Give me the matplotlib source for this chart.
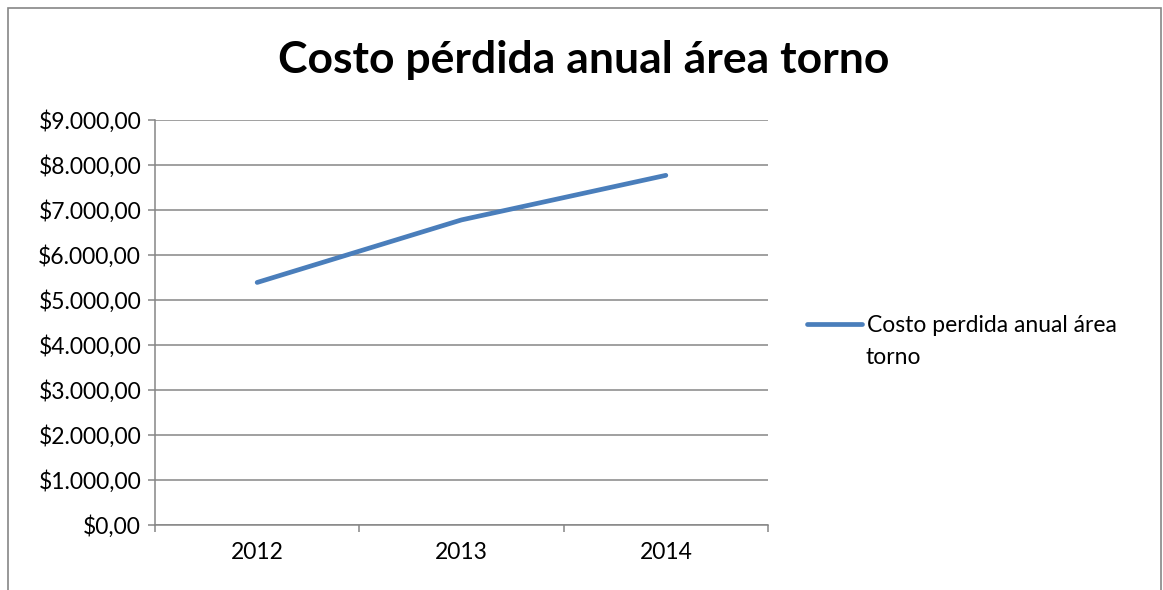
import matplotlib.pyplot as plt
from matplotlib.patches import Rectangle
from matplotlib.ticker import FuncFormatter

plt.rcParams['font.family'] = ['Lato', 'DejaVu Sans']

# datos
anios = ['2012', '2013', '2014']
costo = [5390, 6780, 7770]
etiqueta = 'Costo perdida anual área'
etiqueta_2 = 'torno'   # segunda línea de la leyenda (Excel la corta)
titulo = 'Costo pérdida anual área torno'

gris = '#868686'
azul = '#4A7EBB'


def formato_pesos(v, pos):
    # $9.000,00 (punto de miles, coma decimal)
    s = f'{v:,.2f}'.replace(',', 'X').replace('.', ',').replace('X', '.')
    return '$' + s


fig = plt.figure(figsize=(11.63, 5.90), dpi=100)
ax = fig.add_axes([155 / 1163, 1 - 525 / 590, 613 / 1163, 405 / 590])

# borde del área del gráfico
fig.patches.append(Rectangle((8 / 1163, -0.05), 1153 / 1163, 1 - 8 / 590 + 0.05,
                             transform=fig.transFigure, fill=False,
                             edgecolor=gris, linewidth=1.2))

x = range(len(anios))
ax.plot(x, costo, color=azul, linewidth=3.4, solid_capstyle='round',
        solid_joinstyle='round', label=etiqueta)

ax.set_xlim(-0.5, len(anios) - 0.5)
ax.set_ylim(0, 9000)
ax.set_yticks(range(0, 9001, 1000))
ax.yaxis.set_major_formatter(FuncFormatter(formato_pesos))
ax.set_xticks(list(x))
ax.set_xticklabels(anios)
ax.set_xticks([-0.5, 0.5, 1.5, 2.5], minor=True)

ax.grid(axis='y', color=gris, linewidth=1.1)
ax.set_axisbelow(True)
for lado in ['top', 'right']:
    ax.spines[lado].set_visible(False)
for lado in ['left', 'bottom']:
    ax.spines[lado].set_color(gris)
    ax.spines[lado].set_linewidth(1.1)

ax.tick_params(axis='y', length=5, color=gris, width=1.1, labelsize=16.5, pad=5)
ax.tick_params(axis='x', which='major', length=0, labelsize=16.5, pad=12)
ax.tick_params(axis='x', which='minor', length=5, color=gris, width=1.1)

fig.text(0.502, 1 - 60 / 590, titulo, ha='center', va='center',
         fontsize=32, fontweight='bold')

ax.legend(loc='center left', bbox_to_anchor=(807 / 1163, 1 - 326 / 590),
          bbox_transform=fig.transFigure, frameon=False, fontsize=16.5,
          handlelength=2.4, handletextpad=0.2, borderaxespad=0, borderpad=0)
fig.text(866 / 1163, 1 - 357 / 590, etiqueta_2, ha='left', va='center',
         fontsize=16.5)

fig.savefig('out.png', dpi=100)
